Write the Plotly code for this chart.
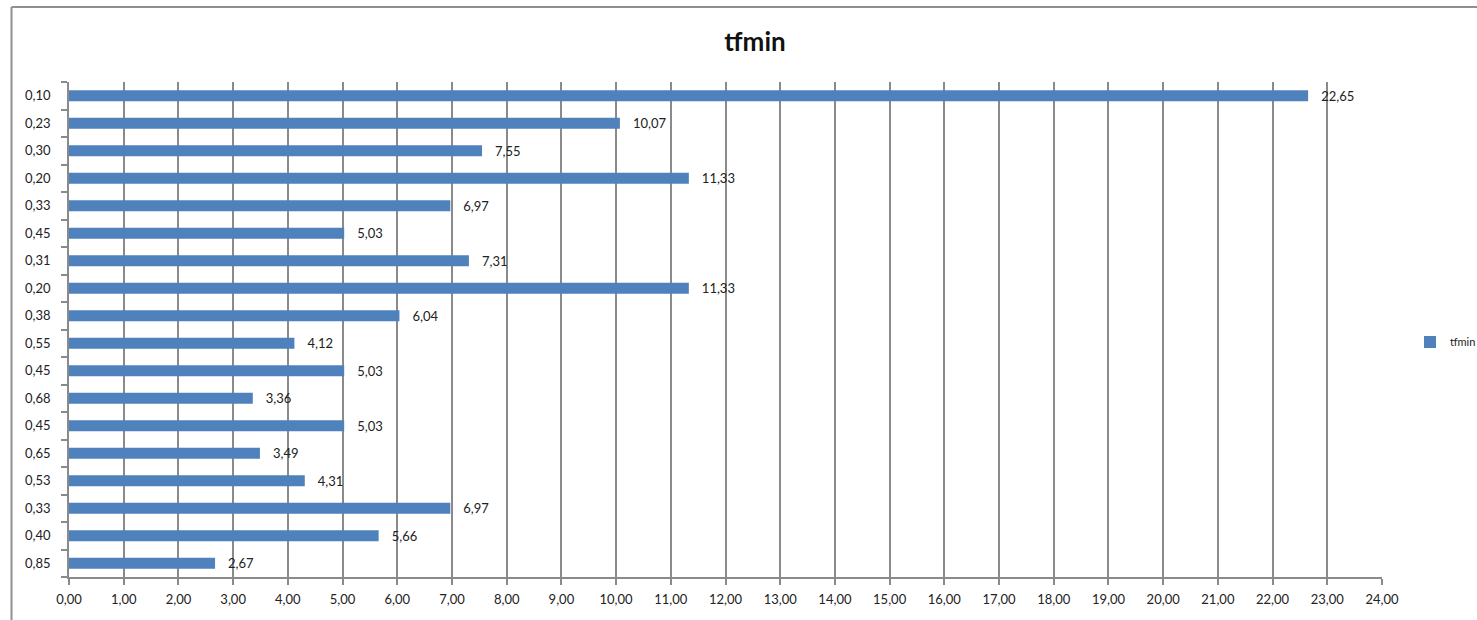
import plotly.graph_objects as go

# Category labels (top to bottom) and tfmin values
categories = ["0,10", "0,23", "0,30", "0,20", "0,33", "0,45", "0,31", "0,20", "0,38",
              "0,55", "0,45", "0,68", "0,45", "0,65", "0,53", "0,33", "0,40", "0,85"]
tfmin = [22.65, 10.07, 7.55, 11.33, 6.97, 5.03, 7.31, 11.33, 6.04,
         4.12, 5.03, 3.36, 5.03, 3.49, 4.31, 6.97, 5.66, 2.67]
x_ticks = list(range(0, 25))

positions = list(range(len(categories)))

W, H = 1477, 620
ML, MR, MT, MB = 69, 95, 82, 43
pw, ph = W - ML - MR, H - MT - MB

FONT = "Lato, Open Sans, sans-serif"
axis_gray = "#8a8a8a"

fig = go.Figure()
fig.add_trace(go.Bar(
    x=tfmin,
    y=positions,
    orientation="h",
    name="tfmin",
    width=0.4,
    marker=dict(color="#4F81BD", line=dict(width=0)),
    texttemplate="\u00a0\u00a0\u00a0%{x:.2f}",
    textposition="outside",
    constraintext="none",
    textfont=dict(family=FONT, size=13, color="#222222"),
    cliponaxis=False,
))

fig.update_layout(
    width=W, height=H,
    margin=dict(l=ML, r=MR, t=MT, b=MB, autoexpand=False),
    paper_bgcolor="white",
    plot_bgcolor="white",
    separators=",.",
    bargap=0.6,
    font=dict(family=FONT, size=13, color="#222222"),
    title=dict(
        text="<b>tfmin</b>",
        font=dict(family=FONT, size=26, color="#111111"),
        x=755 / W, xanchor="center", xref="container",
        y=1 - 42 / H, yanchor="middle", yref="container",
    ),
    showlegend=True,
    legend=dict(
        xref="container", yref="container",
        x=1410 / W, y=1 - 342 / H,
        xanchor="left", yanchor="middle",
        font=dict(family=FONT, size=11, color="#222222"),
        bgcolor="rgba(0,0,0,0)",
        itemwidth=30,
    ),
    xaxis=dict(
        range=[0, 24],
        tickvals=x_ticks,
        tickformat=".2f",
        showgrid=True, gridcolor=axis_gray, gridwidth=1.5,
        showline=True, linecolor=axis_gray, linewidth=1.5,
        ticks="outside", ticklen=6, tickcolor=axis_gray, tickwidth=1.5,
        ticklabelstandoff=4,
        zeroline=False,
        fixedrange=True,
    ),
    yaxis=dict(
        range=[len(categories) - 0.5, -0.5],
        tickvals=positions,
        ticktext=categories,
        ticks="",
        ticklabelstandoff=14,
        showgrid=False,
        showline=True, linecolor=axis_gray, linewidth=1.5,
        zeroline=False,
        minor=dict(
            tickvals=[p - 0.5 for p in positions] + [len(categories) - 0.5],
            ticks="outside", ticklen=6, tickcolor=axis_gray, tickwidth=1.5,
            showgrid=False,
        ),
        fixedrange=True,
    ),
)

# Chart-area frame (left and top edges)
left_x = (11.5 - ML) / pw
top_y = 1 + (MT - 7) / ph
fig.add_shape(type="line", xref="paper", yref="paper",
              x0=left_x, x1=left_x, y0=-0.2, y1=top_y,
              line=dict(color="#8f8f8f", width=2))
fig.add_shape(type="line", xref="paper", yref="paper",
              x0=left_x, x1=1.2, y0=top_y, y1=top_y,
              line=dict(color="#8f8f8f", width=2))

fig.write_html("out.html")
